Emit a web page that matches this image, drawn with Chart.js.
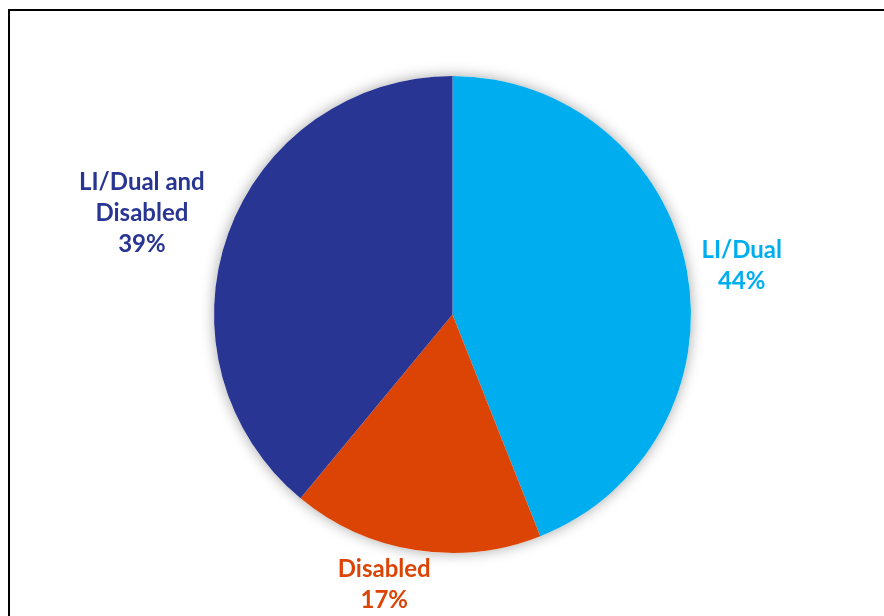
<!DOCTYPE html>
<html>
<head>
<meta charset="utf-8">
<script src="https://cdn.jsdelivr.net/npm/chart.js@4.4.1/dist/chart.umd.min.js"></script>
<style>
  html, body { margin: 0; padding: 0; background: #fff; overflow: hidden; }
  #wrap { position: relative; width: 884px; height: 616px; }
  #frame {
    position: absolute; left: 8px; top: 9px; width: 1000px; height: 800px;
    border: 2px solid #000; pointer-events: none;
  }
</style>
</head>
<body>
<div id="wrap">
  <canvas id="pie" width="884" height="616"></canvas>
  <div id="frame"></div>
</div>
<script>
// categories and values (percent)
const categories = ["LI/Dual", "Disabled", "LI/Dual and Disabled"];
const labelLines = [["LI/Dual"], ["Disabled"], ["LI/Dual and", "Disabled"]];
const shares = [44, 17, 39];
const colors = ["#00AEEF", "#DC4405", "#283593"];

// how far out (times the radius) each label sits, and its angle nudge
const labelDist = [1.23, 1.17, 1.37];
const labelTurn = [0.02, 0.09, -0.03];

// soft shadow behind the whole pie
const pieShadow = {
  id: "pieShadow",
  beforeDatasetsDraw(chart) {
    const arc = chart.getDatasetMeta(0).data[0];
    if (!arc) return;
    const ctx = chart.ctx;
    ctx.save();
    ctx.shadowColor = "rgba(0,0,0,0.35)";
    ctx.shadowBlur = 14;
    ctx.fillStyle = "#fff";
    ctx.beginPath();
    ctx.arc(arc.x, arc.y, arc.outerRadius, 0, Math.PI * 2);
    ctx.fill();
    ctx.restore();
  }
};

// outside labels: name + percent
const outsideLabels = {
  id: "outsideLabels",
  afterDatasetsDraw(chart) {
    const ctx = chart.ctx;
    const meta = chart.getDatasetMeta(0);
    ctx.save();
    ctx.font = "bold 24px Lato, 'Open Sans', sans-serif";
    ctx.textAlign = "center";
    ctx.textBaseline = "middle";
    meta.data.forEach((arc, i) => {
      const mid = (arc.startAngle + arc.endAngle) / 2 + labelTurn[i];
      const r = arc.outerRadius * labelDist[i];
      const lines = labelLines[i].concat([shares[i] + "%"]);
      const lh = 31;
      const cx = arc.x + Math.cos(mid) * r;
      const cy = arc.y + Math.sin(mid) * r - (lines.length - 1) * lh / 2;
      ctx.fillStyle = colors[i];
      lines.forEach((t, k) => ctx.fillText(t, cx, cy + k * lh));
    });
    ctx.restore();
  }
};

new Chart(document.getElementById("pie"), {
  type: "pie",
  data: {
    labels: categories,
    datasets: [{
      data: shares,
      backgroundColor: colors,
      borderWidth: 0
    }]
  },
  options: {
    responsive: false,
    animation: false,
    layout: { padding: { left: 21, right: 0, top: 76, bottom: 63 } },
    plugins: {
      legend: { display: false },
      tooltip: { enabled: false },
      title: { display: false }
    }
  },
  plugins: [pieShadow, outsideLabels]
});
</script>
</body>
</html>
